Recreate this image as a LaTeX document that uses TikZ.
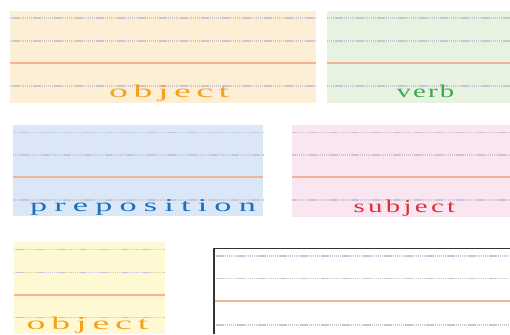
\documentclass[tikz,border=0pt]{standalone}
\usepackage{fontspec}
\usepackage{graphicx}
\newfontfamily\cardfont{Liberation Serif}

\definecolor{objbg}{HTML}{FDEFD6}
\definecolor{verbbg}{HTML}{E7F2E0}
\definecolor{prepbg}{HTML}{DAE7F6}
\definecolor{subjbg}{HTML}{F9E6F0}
\definecolor{obj2bg}{HTML}{FEF9D2}
\definecolor{objfg}{HTML}{F6A11E}
\definecolor{verbfg}{HTML}{3BAA4B}
\definecolor{prepfg}{HTML}{1C6EBE}
\definecolor{subjfg}{HTML}{E32D3A}
\definecolor{dotline}{HTML}{C8C5D6}
\definecolor{midline}{HTML}{F4B296}

% word with stretched letters and a fixed gap between them
\ExplSyntaxOn
\bool_new:N \l_card_first_bool
\tl_new:N \l_card_word_tl
\NewDocumentCommand \cardword { m m m }
  {
    \tl_set:Nx \l_card_word_tl {#3}
    \bool_set_true:N \l_card_first_bool
    \tl_map_inline:Nn \l_card_word_tl
      {
        \bool_if:NF \l_card_first_bool { \hspace*{#2pt} }
        \scalebox{#1}[1]{##1}
        \bool_set_false:N \l_card_first_bool
      }
  }
\ExplSyntaxOff

\begin{document}
\begin{tikzpicture}[x=1pt, y=-1pt,
    guide/.style={draw=dotline, line width=1.6pt, dash pattern=on 1.4pt off 0.7pt},
    midrule/.style={draw=midline, line width=1.8pt},
    frame/.style={draw=black!80, line width=1.2pt},
    word/.style={anchor=base west, inner sep=0pt,
                 font=\cardfont\fontsize{18}{20}\selectfont}]
  \useasboundingbox (0,0) rectangle (510,334);

  % cards: x/y/width/height/fill/text colour/word/text x/baseline/stretch/gap/name
  \foreach \cx/\cy/\cw/\ch/\bg/\fg/\word/\tx/\ty/\sx/\gap/\cname in {
      10/11/306/92/objbg/objfg/object/109/97.5/2.1/5.5/objtop,
      326.7/11/183.3/92/verbbg/verbfg/verb/396.5/97.7/1.6/2.1/verb,
      12.7/125/250.3/90.7/prepbg/prepfg/preposition/29.8/211.7/1.9/7.2/prep,
      292.3/125/217.7/91.7/subjbg/subjfg/subject/353.5/212.7/1.6/3.3/subj,
      14/242.3/151/92/obj2bg/objfg/object/26.3/329.3/2.1/5.9/objlow} {
    \fill[\bg] (\cx,\cy) rectangle ++(\cw,\ch);
    \foreach \dy in {7.3,30,75}
      \draw[guide] (\cx,\cy+\dy) -- ++(\cw,0);
    \draw[midrule] (\cx,\cy+52.3) -- ++(\cw,0);
    \node[word, text=\fg] (\cname) at (\tx,\ty) {\cardword{\sx}{\gap}{\word}};
  }

  % empty card, cut by the page edge
  \foreach \dy in {7.4,30,76.7}
    \draw[guide] (214,248.3+\dy) -- (510,248.3+\dy);
  \draw[midrule] (214,300.7) -- (510,300.7);
  \draw[frame] (510,248.3) -- (214,248.3) -- (214,334);
\end{tikzpicture}
\end{document}
